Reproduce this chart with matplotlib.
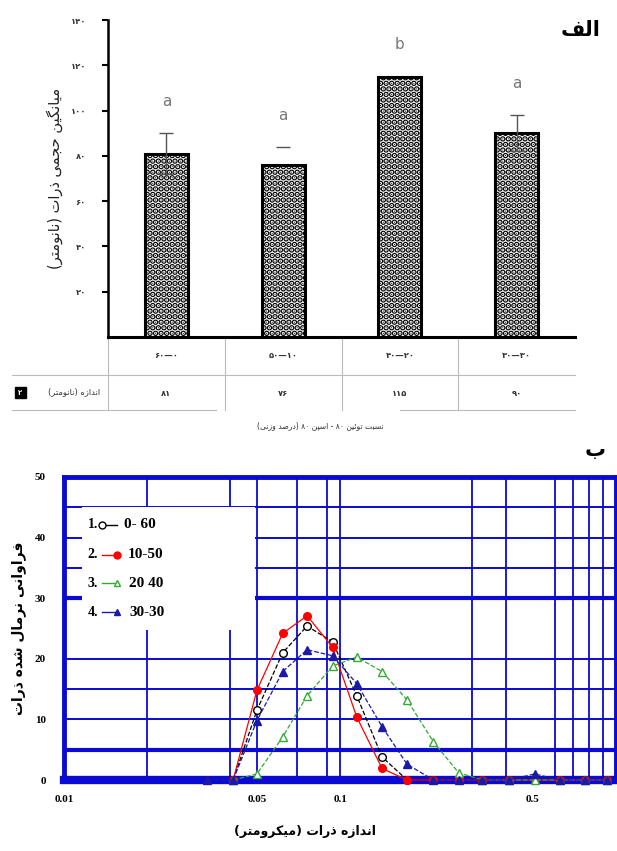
import re
import numpy as np
import matplotlib
matplotlib.use('Agg')
import matplotlib.pyplot as plt
from matplotlib.patches import Rectangle
from matplotlib.lines import Line2D
from matplotlib.transforms import blended_transform_factory

# --- data: top panel (mean particle size by surfactant ratio)
groups = ['۶۰—۰', '۵۰—۱۰', '۴۰—۲۰', '۳۰—۳۰']
mean_size = [81, 76, 115, 90]
size_err = [9, 8, 0, 8]
letters = ['a', 'a', 'b', 'a']
yticks_top = [20, 40, 60, 80, 100, 120, 140]

# --- data: bottom panel (normalised size distribution)
size_um = [0.033, 0.041, 0.050, 0.062, 0.076, 0.094, 0.115, 0.142, 0.175,
           0.218, 0.269, 0.328, 0.408, 0.508, 0.626, 0.771, 0.927]
nan = np.nan
freq_0_60 = [nan, 0, 11.5, 21.0, 25.4, 22.8, 13.9, 3.8, 0, 0, 0, 0, 0, 0, 0, 0, 0]
freq_10_50 = [nan, 0, 14.8, 24.2, 27.1, 21.9, 10.4, 1.9, 0, 0, 0, 0, 0, 0, 0, 0, 0]
freq_20_40 = [nan, 0, 1.0, 7.1, 13.9, 18.8, 20.3, 17.9, 13.2, 6.3, 1.2, 0, 0, 0, 0, 0, 0]
freq_30_30 = [0, 0, 9.8, 17.9, 21.5, 20.5, 15.9, 8.8, 2.6, 0, 0, 0, 0, 1.0, 0, 0, 0]
series_labels = ['0- 60', '10-50', '20 40', '30-30']
xgrid = [0.02, 0.04, 0.05, 0.07, 0.09, 0.1, 0.3, 0.4, 0.6, 0.7, 0.8, 0.9]
ygrid = [5, 10, 15, 20, 30, 35, 40, 45]

# small persian shaper (presentation forms) + visual order
FORMS = {
    'ا': ('\uFE8D', '\uFE8E', None, None),
    'ب': ('\uFE8F', '\uFE90', '\uFE91', '\uFE92'),
    'پ': ('\uFB56', '\uFB57', '\uFB58', '\uFB59'),
    'ت': ('\uFE95', '\uFE96', '\uFE97', '\uFE98'),
    'ج': ('\uFE9D', '\uFE9E', '\uFE9F', '\uFEA0'),
    'ح': ('\uFEA1', '\uFEA2', '\uFEA3', '\uFEA4'),
    'د': ('\uFEA9', '\uFEAA', None, None),
    'ذ': ('\uFEAB', '\uFEAC', None, None),
    'ر': ('\uFEAD', '\uFEAE', None, None),
    'ز': ('\uFEAF', '\uFEB0', None, None),
    'س': ('\uFEB1', '\uFEB2', '\uFEB3', '\uFEB4'),
    'ش': ('\uFEB5', '\uFEB6', '\uFEB7', '\uFEB8'),
    'ص': ('\uFEB9', '\uFEBA', '\uFEBB', '\uFEBC'),
    'ف': ('\uFED1', '\uFED2', '\uFED3', '\uFED4'),
    'ک': ('\uFB8E', '\uFB8F', '\uFB90', '\uFB91'),
    'گ': ('\uFB92', '\uFB93', '\uFB94', '\uFB95'),
    'ل': ('\uFEDD', '\uFEDE', '\uFEDF', '\uFEE0'),
    'م': ('\uFEE1', '\uFEE2', '\uFEE3', '\uFEE4'),
    'ن': ('\uFEE5', '\uFEE6', '\uFEE7', '\uFEE8'),
    'و': ('\uFEED', '\uFEEE', None, None),
    'ه': ('\uFEE9', '\uFEEA', '\uFEEB', '\uFEEC'),
    'ی': ('\uFBFC', '\uFBFD', '\uFBFE', '\uFBFF'),
    'ئ': ('\uFE89', '\uFE8A', '\uFE8B', '\uFE8C'),
}


def fa(s):
    out = []
    for i, c in enumerate(s):
        if c not in FORMS:
            out.append(c)
            continue
        p = s[i - 1] if i > 0 else ''
        n = s[i + 1] if i + 1 < len(s) else ''
        pj = p in FORMS and FORMS[p][2] is not None
        nj = n in FORMS and FORMS[c][2] is not None
        iso, fin, ini, med = FORMS[c]
        out.append(med if pj and nj else fin if pj else ini if nj else iso)
    tokens = re.findall(r'[0-9۰-۹.]+|.', ''.join(out))
    mirror = {'(': ')', ')': '('}
    return ''.join(mirror.get(t, t) for t in reversed(tokens))


def fa_num(v):
    return str(v).translate(str.maketrans('0123456789', '۰۱۲۳۴۵۶۷۸۹'))


AR = ['DejaVu Sans']
SERIF = ['Liberation Serif', 'DejaVu Serif']
plt.rcParams['hatch.linewidth'] = 3.0

fig = plt.figure(figsize=(6.17, 8.51), dpi=100)

# ================= top panel =================
ax1 = fig.add_axes([108 / 617, 1 - 337 / 851, 467 / 617, 317 / 851])
x = np.arange(len(groups))
ax1.bar(x, mean_size, width=0.37, facecolor='white', edgecolor='black',
        hatch='...', linewidth=0, zorder=2)
ax1.bar(x, mean_size, width=0.37, fill=False, edgecolor='black',
        linewidth=2.2, zorder=3)
for i in range(len(groups)):
    if size_err[i] == 0:
        continue
    if i == 1:
        ax1.hlines(mean_size[i] + size_err[i], i - 0.06, i + 0.06, color='#555', lw=1, zorder=4)
    else:
        ax1.errorbar(i, mean_size[i], yerr=size_err[i], color='#555', lw=1,
                     capsize=5, capthick=1, zorder=4)

for i, l in enumerate(letters):
    ax1.text(i, mean_size[i] + size_err[i] + 14, l, ha='center', va='center',
             fontsize=11, color='#777', family=AR)

ax1.set_xlim(-0.5, 3.5)
ax1.set_ylim(0, 140)
ax1.set_yticks(yticks_top)
ax1.set_yticklabels([fa_num(v) for v in yticks_top], family=AR, fontsize=6,
                    color='#333', fontweight='bold')
ax1.tick_params(axis='y', length=4, width=1.5, pad=12)
ax1.set_xticks([])
for s in ['top', 'right']:
    ax1.spines[s].set_visible(False)
ax1.spines['left'].set_linewidth(1.8)
ax1.spines['bottom'].set_linewidth(2.2)
ax1.text(-0.115, 0.5, fa('میانگین حجمی ذرات (نانومتر)'), transform=ax1.transAxes,
         rotation=90, ha='center', va='center', fontsize=10.5, color='#222',
         family=AR)

# table under the bars
tr = blended_transform_factory(ax1.transData, fig.transFigure)
for i, g in enumerate(groups):
    ax1.text(i, 1 - 355 / 851, g, transform=tr, ha='center', va='center',
             fontsize=6, color='#333', family=AR, fontweight='bold')
    ax1.text(i, 1 - 393 / 851, fa_num(mean_size[i]), transform=tr, ha='center',
             va='center', fontsize=6, color='#333', family=AR, fontweight='bold')
for xv in [-0.5, 0.5, 1.5, 2.5]:
    ax1.add_line(Line2D([xv, xv], [1 - 337 / 851, 1 - 410 / 851], transform=tr,
                        color='#bbb', lw=0.8, clip_on=False))
fig.add_artist(Line2D([12 / 617, 575 / 617], [1 - 375 / 851] * 2, color='#bbb', lw=0.8))
fig.add_artist(Line2D([12 / 617, 216 / 617], [1 - 410 / 851] * 2, color='#bbb', lw=0.8))
fig.add_artist(Line2D([400 / 617, 575 / 617], [1 - 410 / 851] * 2, color='#bbb', lw=0.8))
fig.text(100 / 617, 1 - 392 / 851, fa('اندازه (نانومتر)'), ha='right', va='center',
         fontsize=6, color='#333', family=AR)
fig.add_artist(Rectangle((15 / 617, 1 - 398 / 851), 11 / 617, 11 / 851,
                         facecolor='black', edgecolor='black'))
fig.text(20.5 / 617, 1 - 392.5 / 851, '۲', ha='center', va='center', fontsize=5,
         color='white', family=AR, fontweight='bold')
fig.text(320 / 617, 1 - 426 / 851, fa('نسبت توئین ۸۰ - اسپن ۸۰ (درصد وزنی)'),
         ha='center', va='center', fontsize=5.5, color='#333', family=AR)
fig.text(600 / 617, 1 - 30 / 851, fa('الف'), ha='right', va='center', fontsize=15,
         fontweight='bold', family=AR)

# ================= bottom panel =================
blue = '#0a0ad2'
ax2 = fig.add_axes([64 / 617, 1 - 780 / 851, 552 / 617, 303 / 851])
ax2.set_xscale('log')
ax2.set_xlim(0.01, 1.0)
ax2.set_ylim(0, 50)
for xv in xgrid:
    ax2.axvline(xv, color=blue, lw=1.3, zorder=1)
for yv in ygrid:
    ax2.axhline(yv, color=blue, lw=3 if yv in (5, 30) else 1.4, zorder=1)
ax2.axhline(0, color=blue, lw=6, zorder=1.6, clip_on=False)
for s in ['left', 'top', 'right']:
    ax2.spines[s].set_color(blue)
    ax2.spines[s].set_linewidth(3.5)
ax2.spines['bottom'].set_visible(False)

# white legend box over the grid
ax2.add_patch(Rectangle((0.033, 0.495), 0.313, 0.406, transform=ax2.transAxes,
                        facecolor='white', edgecolor='none', zorder=1.5))

styles = [
    dict(color='black', ls='--', marker='o', mfc='white', mec='black'),
    dict(color='red', ls='-', marker='o', mfc='red', mec='red'),
    dict(color='#33aa33', ls='--', marker='^', mfc='white', mec='#33aa33'),
    dict(color='#1a1aa6', ls='--', marker='^', mfc='#1a1aa6', mec='#1a1aa6'),
]
all_series = [freq_0_60, freq_10_50, freq_20_40, freq_30_30]
for ys, st in zip(all_series, styles):
    ax2.plot(size_um, ys, lw=0.9, ms=5.5, zorder=3, clip_on=False, **st)

leg_y = [0.842, 0.743, 0.650, 0.554]
leg_x = [0.108, 0.116, 0.118, 0.118]
for k, (st, lab) in enumerate(zip(styles, series_labels)):
    ax2.text(0.043, leg_y[k], f'{k + 1}.', transform=ax2.transAxes, ha='left',
             va='center', fontsize=10, fontweight='bold', family=SERIF, zorder=4)
    ax2.plot([0.068, 0.096], [leg_y[k]] * 2, transform=ax2.transAxes, lw=1,
             ms=5, markevery=[1] if k else [0], zorder=4,
             **{**st, 'ls': '-'})
    ax2.text(leg_x[k], leg_y[k], lab, transform=ax2.transAxes, ha='left',
             va='center', fontsize=11, fontweight='bold', family=SERIF, zorder=4)

ax2.set_xticks([0.01, 0.05, 0.1, 0.5])
ax2.set_xticklabels(['0.01', '0.05', '0.1', '0.5'])
ax2.xaxis.set_minor_locator(matplotlib.ticker.NullLocator())
ax2.set_yticks([0, 10, 20, 30, 40, 50])
for lab in ax2.get_xticklabels() + ax2.get_yticklabels():
    lab.set_family(SERIF)
    lab.set_fontweight('bold')
    lab.set_fontsize(8)
ax2.tick_params(axis='x', length=0, pad=11)
ax2.tick_params(axis='y', length=0, pad=13)

ax2.text(-0.083, 0.5, fa('فراوانی نرمال شده ذرات'), transform=ax2.transAxes,
         rotation=90, ha='center', va='center', fontsize=10, fontweight='bold',
         family=AR)
fig.text(305 / 617, 1 - 832 / 851, fa('اندازه ذرات (میکرومتر)'), ha='center',
         va='center', fontsize=9, fontweight='bold', family=AR)
fig.text(606 / 617, 1 - 450 / 851, fa('ب'), ha='right', va='center', fontsize=15,
         fontweight='bold', family=AR)

fig.savefig('out.png', dpi=100, facecolor='white')
